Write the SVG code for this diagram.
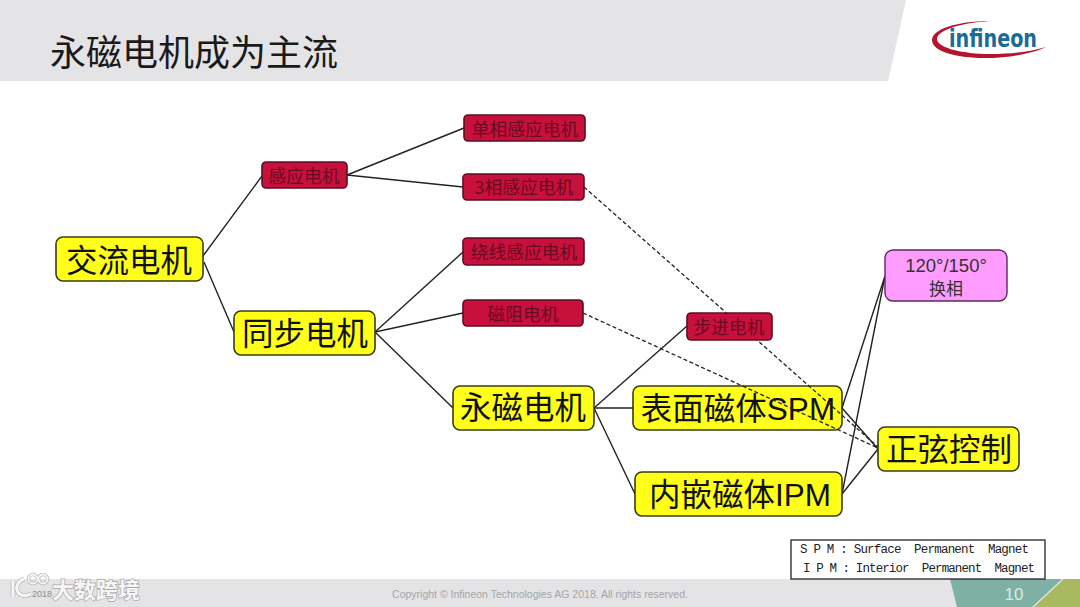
<svg xmlns="http://www.w3.org/2000/svg" width="1080" height="607" viewBox="0 0 1080 607">
<style>
text{font-family:"Noto Sans CJK SC","Liberation Sans",sans-serif;text-anchor:middle;dominant-baseline:central}
.y rect{fill:#ffff19;stroke:#3c3c14;stroke-width:1.6}
.y text{font-family:"Liberation Sans","Noto Sans CJK SC",sans-serif;font-size:31.5px;fill:#111}
.r rect{fill:#c8103c;stroke:#5a1020;stroke-width:1.6}
.r text{font-size:17.8px;fill:#6a0a20}
.c line{stroke:#222;stroke-width:1.4}
.c line.d{stroke-dasharray:4 2.5;stroke-width:1.3}
.m{font-family:"Liberation Mono",monospace;font-size:12.5px;fill:#222;text-anchor:start}
</style>
<rect width="1080" height="607" fill="#fff"/>
<g id="background">
<polygon points="0,0 906,0 888,81 0,81" fill="#e4e3e5"/>
<rect y="579" width="1080" height="28" fill="#e4e3e5"/>
<polygon points="950,579 1062,579 1032,607 957,607" fill="#7fb0a4"/>
<polygon points="1064,579 1080,579 1080,607 1034,607" fill="#a9b95f"/>
</g>
<text id="title" x="194" y="50" font-size="36" fill="#1a1a1a" style="font-family:'Noto Sans CJK SC',sans-serif">永磁电机成为主流</text>
<g id="logo">
<path d="M990,21 C955,21 932,30 932,40 C932,52 958,58 985,58 C1010,58 1034,53 1046,47 C1030,52 1008,54.500 985,54 C958,53 937,47 937,39 C937,31 958,23 990,21Z" fill="#b5142e"/>
<text x="993" y="39" font-size="24" font-weight="700" fill="#1c6a96" style="font-family:'DejaVu Sans',sans-serif" textLength="88" lengthAdjust="spacingAndGlyphs">infineon</text>
</g>
<g id="spm" class="y"><rect x="633" y="386" width="209" height="44" rx="7"/><text x="738" y="409">表面磁体SPM</text></g>
<g id="connectors" class="c">
<line x1="203" y1="256" x2="262" y2="176"/>
<line x1="204" y1="262" x2="234" y2="332"/>
<line x1="347" y1="175" x2="464" y2="128"/>
<line x1="347" y1="175" x2="463" y2="187"/>
<line x1="375" y1="332" x2="463" y2="252"/>
<line x1="375" y1="332" x2="463" y2="313"/>
<line x1="375" y1="332" x2="453" y2="408"/>
<line x1="594" y1="408" x2="687" y2="326"/>
<line x1="594" y1="408" x2="633" y2="408"/>
<line x1="594" y1="408" x2="635" y2="494"/>
<line x1="842" y1="408" x2="885" y2="276"/>
<line x1="842" y1="494" x2="885" y2="276"/>
<line x1="842" y1="408" x2="878" y2="449"/>
<line x1="842" y1="494" x2="878" y2="449"/>
<line class="d" x1="584" y1="187" x2="878" y2="447"/>
<line class="d" x1="583" y1="313" x2="878" y2="448"/>
</g>
<g id="ac-motor" class="y"><rect x="56" y="237" width="147" height="44" rx="7"/><text x="129" y="261">交流电机</text></g>
<g id="sync-motor" class="y"><rect x="234" y="311" width="141" height="44" rx="7"/><text x="305" y="334">同步电机</text></g>
<g id="pm-motor" class="y"><rect x="453" y="386" width="141" height="44" rx="7"/><text x="523" y="408">永磁电机</text></g>
<g id="ipm" class="y"><rect x="635" y="472" width="207" height="44" rx="7"/><text x="740" y="495">内嵌磁体IPM</text></g>
<g id="sine" class="y"><rect x="878" y="427" width="141" height="44" rx="7"/><text x="949" y="450">正弦控制</text></g>
<g id="induction" class="r"><rect x="262" y="162" width="85" height="26" rx="4"/><text x="304" y="175">感应电机</text></g>
<g id="single-phase" class="r"><rect x="464" y="115" width="121" height="26" rx="4"/><text x="525" y="128">单相感应电机</text></g>
<g id="three-phase" class="r"><rect x="463" y="174" width="121" height="26" rx="4"/><text x="524" y="186">3相感应电机</text></g>
<g id="wound" class="r"><rect x="463" y="238" width="121" height="27" rx="4"/><text x="524" y="251">绕线感应电机</text></g>
<g id="reluctance" class="r"><rect x="463" y="300" width="120" height="26" rx="4"/><text x="523" y="313">磁阻电机</text></g>
<g id="stepper" class="r"><rect x="687" y="313" width="85" height="27" rx="4"/><text x="729" y="326">步进电机</text></g>
<g id="commutation">
<rect x="885" y="250" width="122" height="51" rx="8" fill="#ff9cff" stroke="#5a2a60" stroke-width="1.4"/>
<text x="946" y="265" font-size="18.500" fill="#333" style="font-family:'Liberation Sans',sans-serif">120°/150°</text>
<text x="946" y="287" font-size="17" fill="#333">换相</text>
</g>
<g id="legend">
<rect x="791" y="540" width="254" height="39" fill="#fff" stroke="#222" stroke-width="1.3"/>
<text class="m" x="800" y="549.500" xml:space="preserve" textLength="229" lengthAdjust="spacing">S P M : Surface  Permanent  Magnet</text>
<text class="m" x="803" y="568.500" xml:space="preserve" textLength="232" lengthAdjust="spacing">I P M : Interior  Permanent  Magnet</text>
</g>
<g id="footer">
<text x="540" y="594" font-size="10.500" fill="#a5a5a8" style="font-family:'Liberation Sans',sans-serif">Copyright © Infineon Technologies AG 2018. All rights reserved.</text>
<text x="1014" y="594" font-size="17" fill="#d8ebe6" style="font-family:'Liberation Sans',sans-serif">10</text>
<text x="42" y="594" font-size="9" fill="#8a8a8a" style="font-family:'Liberation Sans',sans-serif">2018</text>
</g>
<g id="watermark">
<text x="96" y="588" font-size="22" font-weight="700" fill="#f6f6f6" stroke="#a8a8a8" stroke-width="1.4" style="paint-order:stroke">大数跨境</text>
<g fill="none" stroke="#a8a8a8" stroke-width="4.500" opacity=".7">
<path d="M13,581 L13,597 M24,579 C18,581 16,586 17,590 C19,596 25,597 31,594"/>
<circle cx="33" cy="579" r="4.500" stroke-width="3.500"/>
<circle cx="43" cy="579" r="4.500" stroke-width="3.500"/>
</g>
<g fill="none" stroke="#f6f6f6">
<path d="M13,581 L13,597 M24,579 C18,581 16,586 17,590 C19,596 25,597 31,594" stroke-width="3"/>
<circle cx="33" cy="579" r="4.500" stroke-width="1.800"/>
<circle cx="43" cy="579" r="4.500" stroke-width="1.800"/>
</g>
</g>
</svg>
